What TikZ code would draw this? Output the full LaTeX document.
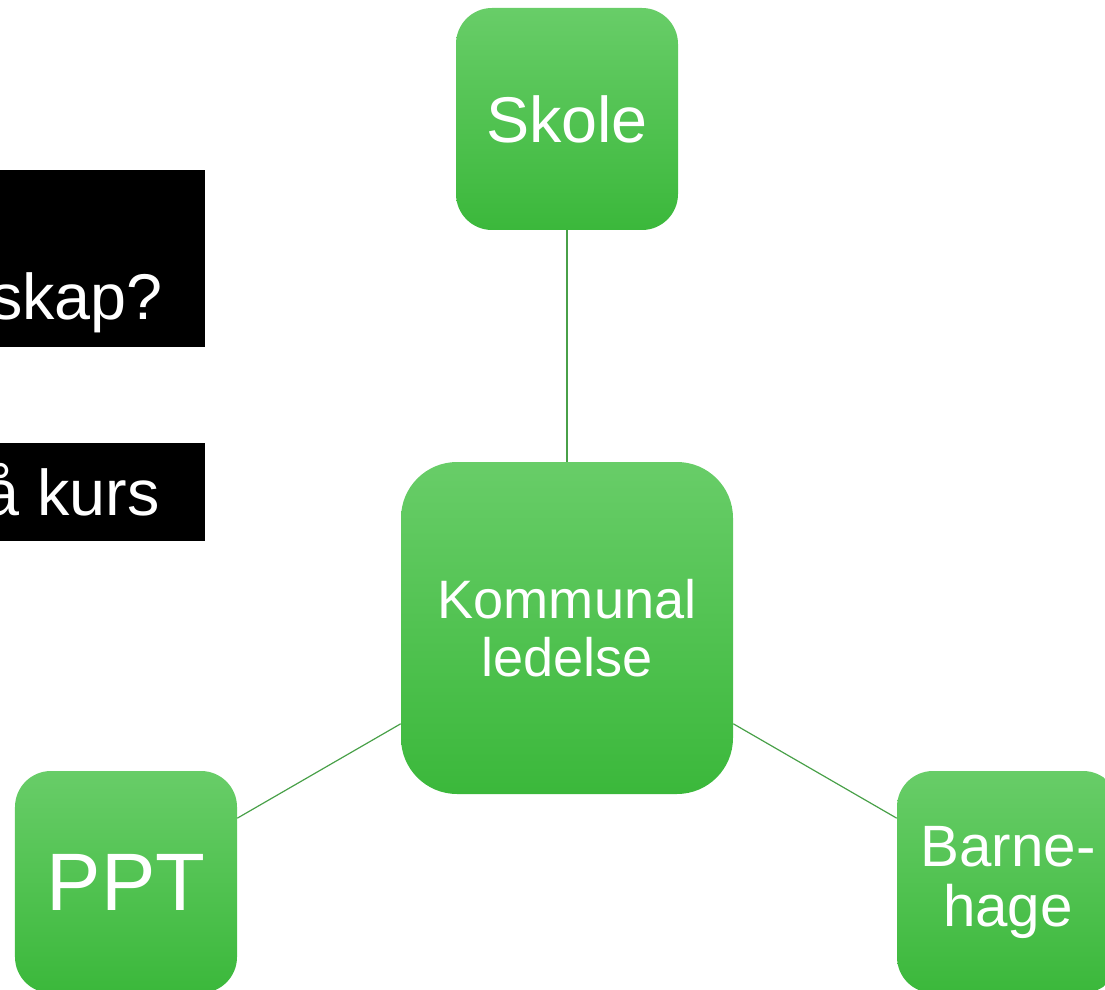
\documentclass[tikz,border=0pt]{standalone}
\usepackage{fontspec}
\setmainfont{Liberation Sans}
\definecolor{boxtop}{HTML}{68CD68}
\definecolor{boxbot}{HTML}{3BB83B}
\definecolor{linkgreen}{HTML}{48A048}

\tikzset{
  unit/.style={rounded corners=0.9cm, top color=boxtop, bottom color=boxbot,
               text=white, align=center, inner sep=0pt,
               minimum width=5.55cm, minimum height=5.55cm},
  qtext/.style={text=white, inner sep=0pt, font=\fontsize{46}{50}\selectfont},
  link/.style={linkgreen, line width=0.85pt}
}

\begin{document}
\begin{tikzpicture}
\useasboundingbox (0,0) rectangle (27.625,-24.75);
\clip (0,0) rectangle (27.625,-24.75);

\fill[black] (-1,-4.25)   rectangle (5.125,-8.675);
\fill[black] (-1,-11.075) rectangle (5.125,-13.525);
\node [qtext, anchor=base east] (q1) at (4.075,-8.0)   {skap?};
\node [qtext, anchor=base east] (q2) at (4.0  ,-12.875) {å kurs};

\node [unit, font=\fontsize{46}{50}\selectfont]
    (skole) at (14.175,-2.975) {Skole};
\node [unit, minimum width=8.3cm, minimum height=8.3cm, rounded corners=1.4cm,
       font=\fontsize{38.5}{41}\selectfont]
    (kl)    at (14.175,-15.7)  {Kommunal\\ledelse};
\node [unit, font=\fontsize{58}{62}\selectfont]
    (ppt)   at ( 3.15 ,-22.05) {PPT};
\node [unit, font=\fontsize{41.5}{42.7}\selectfont]
    (bh)    at (25.2  ,-22.05) {Barne-\\hage};

\draw[link] (skole) -- (kl);
\draw[link] (kl)    -- (ppt);
\draw[link] (kl)    -- (bh);
\end{tikzpicture}
\end{document}
